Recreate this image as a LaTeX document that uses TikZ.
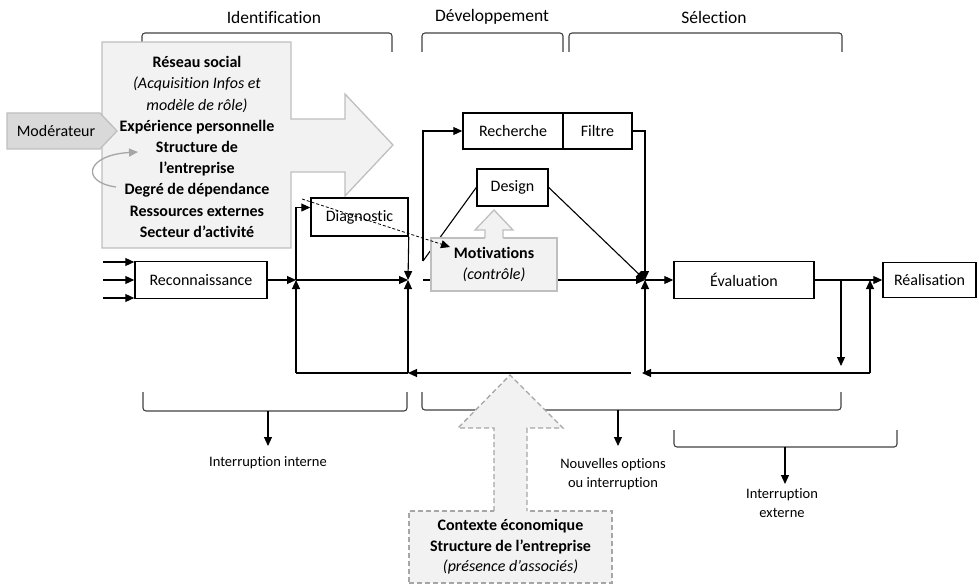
\documentclass[tikz,border=0pt]{standalone}
\usepackage{fontspec}
\setmainfont{Carlito}[Ligatures={NoCommon,NoContextual}]
\usetikzlibrary{arrows.meta, calc}
\definecolor{fondclair}{HTML}{F2F2F2}
\definecolor{fondgris}{HTML}{D9D9D9}
\definecolor{bordgris}{HTML}{BFBFBF}
\definecolor{tiretgris}{HTML}{A6A6A6}
\tikzset{
  etape/.style = {draw, line width=1.5pt, fill=white, minimum height=37pt, inner sep=0pt, font=\fontsize{16}{19}\selectfont},
  fleche/.style = {-{Triangle[length=9pt,width=8pt]}, line width=1.1pt},
  accolade/.style = {rounded corners=3pt, line width=1.1pt, draw=black!75},
  bloc/.style = {fill=fondclair, draw=bordgris, line width=1.3pt},
  etiquette/.style = {font=\fontsize{14.5}{19.5}\selectfont, align=center},
  titre/.style = {font=\fontsize{17.5}{20}\selectfont}
}

\begin{document}
\begin{tikzpicture}[x=1pt, y=-1pt]
\useasboundingbox (0,0) rectangle (979,585);

\node[titre] (tIdent) at (274,17) {Identification};
\node[titre] (tDev) at (492,17) {Développement};
\node[titre] (tSel) at (714,17) {Sélection};
\draw[accolade] (142,52) -- (142,33) -- (392,33) -- (392,52);
\draw[accolade] (422,52) -- (422,33) -- (563,33) -- (563,52);
\draw[accolade] (569,52) -- (569,33) -- (842,33) -- (842,52);

\filldraw[bloc] (102,42) -- (291,42) -- (291,119) -- (345,119) -- (345,94) -- (393,145) -- (345,196) -- (345,172) -- (291,172) -- (291,248) -- (102,248) -- cycle;
\node[align=center, font=\fontsize{16}{21.2}\selectfont] (facteurs) at (197,147)
  {\textbf{Réseau social}\\ \textit{(Acquisition Infos et}\\ \textit{modèle de rôle)}\\
   \textbf{Expérience personnelle}\\ \textbf{Structure de}\\ \textbf{l’entreprise}\\
   \textbf{Degré de dépendance}\\ \textbf{Ressources externes}\\ \textbf{Secteur d’activité}};

\filldraw[fill=fondgris, draw=bordgris, line width=1.3pt] (7,113) -- (100,113) -- (117,131) -- (100,149) -- (7,149) -- cycle;
\node[font=\fontsize{16}{19}\selectfont] (moder) at (56,131) {Modérateur};
\draw[tiretgris, line width=1.3pt, -{Triangle[length=9pt,width=8pt]}] (116,187) .. controls (80,182) and (86,155) .. (138,152);

\node[etape, minimum width=132pt] (recon) at (201,280) {Reconnaissance};
\node[etape, minimum width=97pt, minimum height=38pt] (diag) at (359.5,217) {Diagnostic};
\node[etape, minimum width=100pt, minimum height=36pt] (rech) at (513,131) {Recherche};
\node[etape, minimum width=69pt, minimum height=36pt] (filtre) at (597.5,131) {Filtre};
\node[etape, minimum width=71pt] (design) at (512.5,187.5) {Design};
\node[etape, minimum width=140pt] (eval) at (744,280) {Évaluation};
\node[etape, minimum width=93pt, minimum height=35pt] (real) at (929.5,280) {Réalisation};

\coordinate (j1) at (296,280);
\coordinate (j2) at (408,280);
\coordinate (j3) at (645,280);
\coordinate (j4) at (870,280);
\coordinate (dev) at (423,280);
\coordinate (fourche) at (423,261);
\coordinate (sortie) at (841,280);
\coordinate (abandon) at (841,366);
\coordinate (bG) at (296,373);
\coordinate (bM) at (408,373);
\coordinate (bC) at (631,373);
\coordinate (bE) at (645,373);
\coordinate (bD) at (870,373);
\coordinate (pointille) at (302,199);
\coordinate (cible) at (450,247);

\foreach \y in {262,280,298}
  \draw[fleche] (103,\y) coordinate (e\y) -- (e\y -| recon.west);

\draw[fleche] (recon) -- (j1);
\draw[fleche] (bG) -- (j1);
\draw[fleche] (j1) |- ($(diag.north west)!0.26!(diag.south west)$);
\draw[fleche] (j1) -- (j2);
\draw[fleche] (diag.south east) -- (j2);
\draw[fleche] (bM) -- (j2);
\draw[fleche] (fourche) |- (rech);
\draw[line width=1.1pt] (fourche) -- (design.west);
\draw[fleche] (dev) -- (j3);
\draw[fleche] (filtre) -| (j3);
\draw[fleche] (design.east) -- (j3);
\draw[fleche] (bE) -- (j3);
\draw[fleche] (j3) -- (eval);
\draw[fleche] (eval) -- (real);
\draw[fleche] (sortie) -- (abandon);
\draw[fleche] (bD) -- (j4);
\draw[fleche, shorten >=-3pt] (bD) -- (bE);
\draw[fleche] (bC) -- (bM);
\draw[line width=1.1pt] (bM) -- (bG);

\node[bloc, minimum width=126pt, minimum height=53pt, inner sep=0pt, align=center, font=\fontsize{16}{21}\selectfont] (motiv) at (494,264.5) {\textbf{Motivations}\\ \textit{(contrôle)}};
\fill[fondclair] (485,239) -- (485,230) -- (475,230) -- (494,210) -- (513,230) -- (503,230) -- (503,239) -- cycle;
\draw[bordgris, line width=1.3pt] (485,238) -- (485,230) -- (475,230) -- (494,210) -- (513,230) -- (503,230) -- (503,238);

\draw[fleche, line width=0.8pt, dash pattern=on 3pt off 2pt] (pointille) -- (cible);

\draw[accolade] (143,392) -- (143,411) -- (407,411) -- (407,392);
\draw[accolade] (422,392) -- (422,410) -- (841,410) -- (841,392);
\draw[accolade] (674,430) -- (674,447) -- (897,447) -- (897,430);

\coordinate (aI) at (268,411);
\coordinate (aI2) at (268,446);
\coordinate (aD) at (618,410);
\coordinate (aD2) at (618,446);
\coordinate (aS) at (785,447);
\coordinate (aS2) at (785,484);
\draw[fleche] (aI) -- (aI2);
\draw[fleche] (aD) -- (aD2);
\draw[fleche] (aS) -- (aS2);
\node[etiquette] (intInt) at (268,463) {Interruption interne};
\node[etiquette] (nouv) at (613,474) {Nouvelles options\\ou interruption};
\node[etiquette] (intExt) at (782,503) {Interruption\\externe};

\node[fill=fondclair, draw=tiretgris, line width=1.3pt, dash pattern=on 5pt off 3pt, minimum width=203pt, minimum height=72pt, inner sep=0pt, align=center, font=\fontsize{16}{20.5}\selectfont] (contexte) at (510.5,547)
  {\textbf{Contexte économique}\\ \textbf{Structure de l’entreprise}\\ \textit{(présence d’associés)}};
\fill[fondclair] (494,512) -- (494,428) -- (458,428) -- (510,375) -- (563,428) -- (527,428) -- (527,512) -- cycle;
\draw[tiretgris, line width=1.3pt, dash pattern=on 5pt off 3pt] (494,511) -- (494,428) -- (458,428) -- (510,375) -- (563,428) -- (527,428) -- (527,511);
\end{tikzpicture}
\end{document}
